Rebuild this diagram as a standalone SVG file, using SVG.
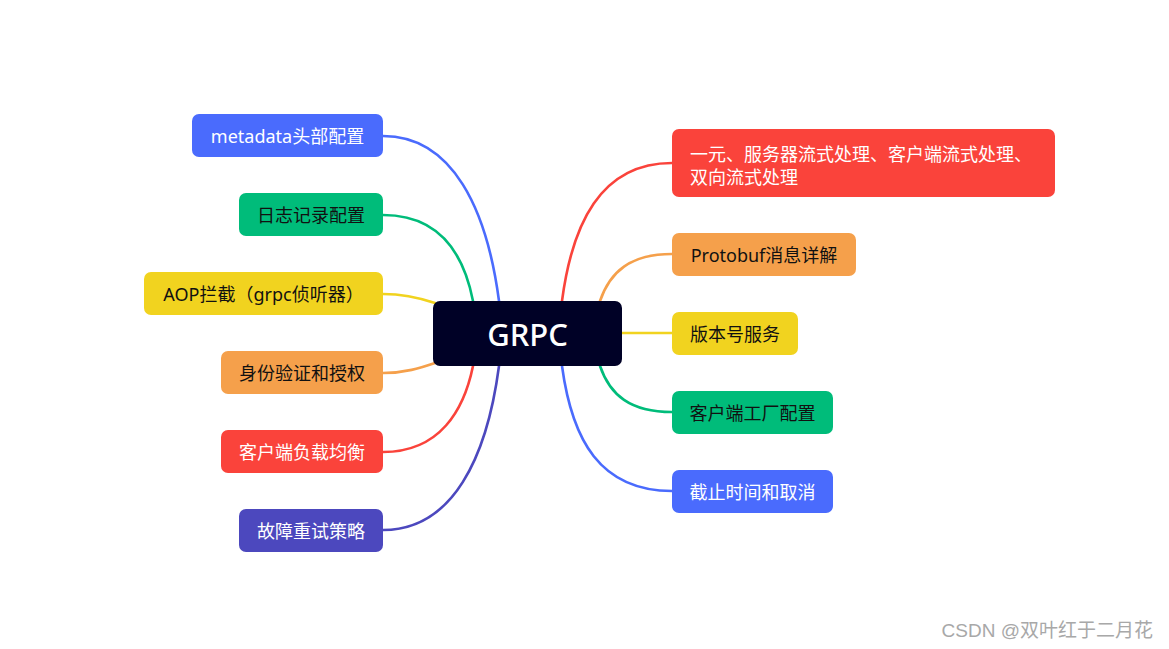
<svg xmlns="http://www.w3.org/2000/svg" width="1169" height="649" viewBox="0 0 1169 649">
<style>
text{font-family:"Noto Sans","Noto Sans CJK SC",sans-serif;font-size:18px;dominant-baseline:central;text-anchor:middle}
.w{fill:#ffffff}.k{fill:#111111}
.c{fill:none;stroke-width:2.6;stroke-linecap:round}
.blue{fill:#4a6bfd}.green{fill:#00bc7a}.yellow{fill:#f1d31f}.orange{fill:#f5a04b}.red{fill:#fa433b}.indigo{fill:#4c48be}
</style>
<rect width="1169" height="649" fill="#ffffff"/>
<g id="connectors">
<path class="c" stroke="#4a6bfd" d="M499,301 C487,210 453,136 383,136"/>
<path class="c" stroke="#00bc7a" d="M473,301 C464,255 440,215 383,215"/>
<path class="c" stroke="#f1d31f" d="M435,303 C420,298 405,294 383,294"/>
<path class="c" stroke="#f5a04b" d="M435,363 C420,368 405,373 383,373"/>
<path class="c" stroke="#fa433b" d="M473,366 C464,410 440,452 383,452"/>
<path class="c" stroke="#4c48be" d="M499,366 C487,457 453,530 383,530"/>
<path class="c" stroke="#fa433b" d="M562,301 C572,225 600,163 672,163"/>
<path class="c" stroke="#f5a04b" d="M600,301 C610,272 630,254 672,254"/>
<path class="c" stroke="#f1d31f" d="M622,333 L672,333"/>
<path class="c" stroke="#00bc7a" d="M600,366 C610,395 630,412 672,412"/>
<path class="c" stroke="#4a6bfd" d="M562,366 C572,440 600,491 672,491"/>
</g>
<g id="center">
<rect x="433" y="301" width="189" height="65" rx="7" fill="#000126"/>
<text class="w" x="527.5" y="334" style="font-size:31px;font-weight:500">GRPC</text>
</g>
<g id="n-metadata"><rect class="blue" x="192" y="114" width="191" height="43" rx="7"/><text class="w" x="287.5" y="135.5">metadata头部配置</text></g>
<g id="n-log"><rect class="green" x="239" y="193" width="144" height="43" rx="7"/><text class="k" x="311" y="214.5">日志记录配置</text></g>
<g id="n-aop"><rect class="yellow" x="144" y="272" width="239" height="43" rx="7"/><text class="k" x="263.5" y="293.5">AOP拦截（grpc侦听器）</text></g>
<g id="n-auth"><rect class="orange" x="221" y="351" width="162" height="43" rx="7"/><text class="k" x="302" y="372.5">身份验证和授权</text></g>
<g id="n-lb"><rect class="red" x="221" y="430" width="162" height="43" rx="7"/><text class="w" x="302" y="451.5">客户端负载均衡</text></g>
<g id="n-retry"><rect class="indigo" x="239" y="509" width="144" height="43" rx="7"/><text class="w" x="311" y="530.5">故障重试策略</text></g>
<g id="n-stream"><rect class="red" x="672" y="129" width="383" height="68" rx="7"/>
<text class="w" x="690" y="153.5" style="text-anchor:start">一元、服务器流式处理、客户端流式处理、</text>
<text class="w" x="690" y="177" style="text-anchor:start">双向流式处理</text></g>
<g id="n-protobuf"><rect class="orange" x="672" y="233" width="184" height="43" rx="7"/><text class="k" x="764" y="254.5">Protobuf消息详解</text></g>
<g id="n-version"><rect class="yellow" x="672" y="312" width="126" height="43" rx="7"/><text class="k" x="735" y="333.5">版本号服务</text></g>
<g id="n-factory"><rect class="green" x="672" y="391" width="161" height="43" rx="7"/><text class="k" x="752.5" y="412.5">客户端工厂配置</text></g>
<g id="n-deadline"><rect class="blue" x="672" y="470" width="161" height="43" rx="7"/><text class="w" x="752.5" y="491.5">截止时间和取消</text></g>
<text x="1153" y="630" style="text-anchor:end;font-family:'Liberation Sans','Noto Sans CJK SC',sans-serif;font-size:19px;fill:#a8a8a8">CSDN @双叶红于二月花</text>
</svg>
